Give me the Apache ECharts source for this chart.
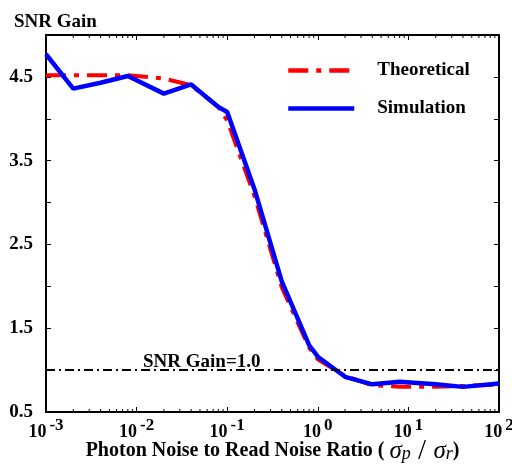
<!DOCTYPE html>
<html><head><meta charset="utf-8">
<script src="https://cdn.jsdelivr.net/npm/echarts@6/dist/echarts.min.js"></script>
<style>html,body{margin:0;padding:0;background:#fff}#c{width:512px;height:468px}</style>
</head><body><div id="c"></div>
<script>
const ratio = [0.001, 0.002, 0.004, 0.008, 0.02, 0.04, 0.08, 0.1, 0.2, 0.4, 0.8, 1, 2, 4, 8, 20, 40, 100];
const simulation = [4.77, 4.36, 4.43, 4.51, 4.30, 4.41, 4.14, 4.08, 3.16, 2.06, 1.30, 1.16, 0.92, 0.83, 0.86, 0.83, 0.80, 0.84];
const theoretical = [4.52, 4.52, 4.52, 4.52, 4.48, 4.40, 4.14, 3.98, 3.08, 1.99, 1.27, 1.13, 0.93, 0.82, 0.80, 0.80, 0.81, 0.83];
const xTickLabels = {'0.001': '-3', '0.01': '-2', '0.1': '-1', '1': '0', '10': '1', '100': '2'};
const yLabelValues = [0.5, 1.5, 2.5, 3.5, 4.5];
const minorTicks = [0.002,0.003,0.004,0.005,0.006,0.007,0.008,0.009,
  0.02,0.03,0.04,0.05,0.06,0.07,0.08,0.09,
  0.2,0.3,0.4,0.5,0.6,0.7,0.8,0.9,
  2,3,4,5,6,7,8,9,
  20,30,40,50,60,70,80,90];
const refValue = 1.0;
const refLabel = 'SNR Gain=1.0';

const FONT = 'Liberation Serif';
const chart = echarts.init(document.getElementById('c'), null, {renderer: 'canvas'});
const Y_MIN = 0.5, Y_MAX = 5.0;

function xLabel(v) {
  const key = String(+v.toPrecision(6));
  const e = xTickLabels[key];
  if (e === undefined) return '';
  return '{b|10}{e|' + e + '}';
}

chart.setOption({
  animation: false,
  backgroundColor: '#fff',
  title: {
    text: 'SNR Gain', left: 9, top: 8,
    textStyle: {fontFamily: FONT, fontWeight: 'bold', fontSize: 19, color: '#000'}
  },
  legend: {
    orient: 'vertical', left: 281, top: 56, itemWidth: 66, itemHeight: 12, itemGap: 19,
    data: ['Theoretical', 'Simulation'],
    itemStyle: {opacity: 0},
    lineStyle: {width: 4.5},
    textStyle: {fontFamily: FONT, fontWeight: 'bold', fontSize: 19, color: '#000', padding: [0, 0, 0, 18]}
  },
  grid: {left: 46, right: 13, top: 35, bottom: 56, outerBoundsMode: 'none', containLabel: false},
  xAxis: [{
    type: 'log', logBase: 10, min: 0.001, max: 100,
    axisLine: {show: true, onZero: false, lineStyle: {color: '#000', width: 2}},
    axisTick: {show: true, inside: true, length: 5, lineStyle: {color: '#000', width: 1}},
    splitLine: {show: false},
    axisLabel: {
      margin: 5, formatter: xLabel,
      rich: {
        b: {fontFamily: FONT, fontWeight: 'bold', fontSize: 18, color: '#000', lineHeight: 30},
        e: {fontFamily: FONT, fontWeight: 'bold', fontSize: 17, color: '#000', verticalAlign: 'top', lineHeight: 16, padding: [0, 0, 0, 3]}
      }
    },
    name: '{t|Photon Noise to Read Noise Ratio ( }{s|σ}{sub|p}{sl| / }{s|σ}{sub|r}{t|)}',
    nameLocation: 'middle', nameGap: 27, nameMoveOverlap: false,
    nameTextStyle: {
      rich: {
        t: {fontFamily: FONT, fontWeight: 'bold', fontSize: 20, color: '#000', lineHeight: 24},
        s: {fontFamily: FONT, fontStyle: 'italic', fontSize: 25, color: '#000', lineHeight: 24},
        sub: {fontFamily: FONT, fontStyle: 'italic', fontSize: 18, color: '#000', verticalAlign: 'bottom', lineHeight: 18},
        sl: {fontFamily: FONT, fontSize: 29, color: '#000', lineHeight: 24}
      }
    }
  }, {
    type: 'log', logBase: 10, min: 0.001, max: 100, position: 'top',
    axisLine: {show: true, onZero: false, lineStyle: {color: '#000', width: 2}},
    axisTick: {show: true, inside: true, length: 5, lineStyle: {color: '#000', width: 1}},
    axisLabel: {show: false}, splitLine: {show: false}
  }],
  yAxis: [{
    type: 'value', min: Y_MIN, max: Y_MAX, interval: 0.5,
    axisLine: {show: true, onZero: false, lineStyle: {color: '#000', width: 2}},
    axisTick: {show: true, inside: true, length: 5, lineStyle: {color: '#000', width: 1}},
    splitLine: {show: false},
    axisLabel: {
      margin: 13, fontFamily: FONT, fontWeight: 'bold', fontSize: 19, color: '#000',
      formatter: v => yLabelValues.some(t => Math.abs(t - v) < 1e-6) ? v.toFixed(1) : ''
    }
  }, {
    type: 'value', min: Y_MIN, max: Y_MAX, interval: 0.5, position: 'right',
    axisLine: {show: true, onZero: false, lineStyle: {color: '#000', width: 2}},
    axisTick: {show: true, inside: true, length: 5, lineStyle: {color: '#000', width: 1}},
    axisLabel: {show: false}, splitLine: {show: false}
  }],
  series: [{
    name: 'minor', type: 'custom', silent: true, clip: false, z: 1,
    data: minorTicks.map(v => [v, Y_MIN]),
    renderItem: (params, api) => {
      const b = api.coord([api.value(0), Y_MIN]);
      const t = api.coord([api.value(0), Y_MAX]);
      return {type: 'group', children: [
        {type: 'line', shape: {x1: b[0], y1: b[1], x2: b[0], y2: b[1] - 3}, style: {stroke: '#000', lineWidth: 1}},
        {type: 'line', shape: {x1: t[0], y1: t[1], x2: t[0], y2: t[1] + 3}, style: {stroke: '#000', lineWidth: 1}}
      ]};
    }
  }, {
    name: 'Theoretical', type: 'line', showSymbol: false, symbol: 'none', z: 3,
    data: ratio.map((x, i) => [x, theoretical[i]]),
    lineStyle: {color: '#ff0000', width: 4, type: [20, 8, 5, 8], cap: 'butt'},
    itemStyle: {color: '#ff0000'},
    markLine: {
      silent: true, symbol: 'none',
      data: [{yAxis: refValue}],
      lineStyle: {color: '#000', width: 2, type: [9, 4, 2, 4]},
      label: {
        show: true, position: 'insideStartTop', formatter: refLabel, distance: [97, -1],
        fontFamily: FONT, fontWeight: 'bold', fontSize: 19, color: '#000'
      }
    }
  }, {
    name: 'Simulation', type: 'line', showSymbol: false, symbol: 'none', z: 4,
    data: ratio.map((x, i) => [x, simulation[i]]),
    lineStyle: {color: '#0000ff', width: 4.5},
    itemStyle: {color: '#0000ff'}
  }]
});
</script></body></html>
